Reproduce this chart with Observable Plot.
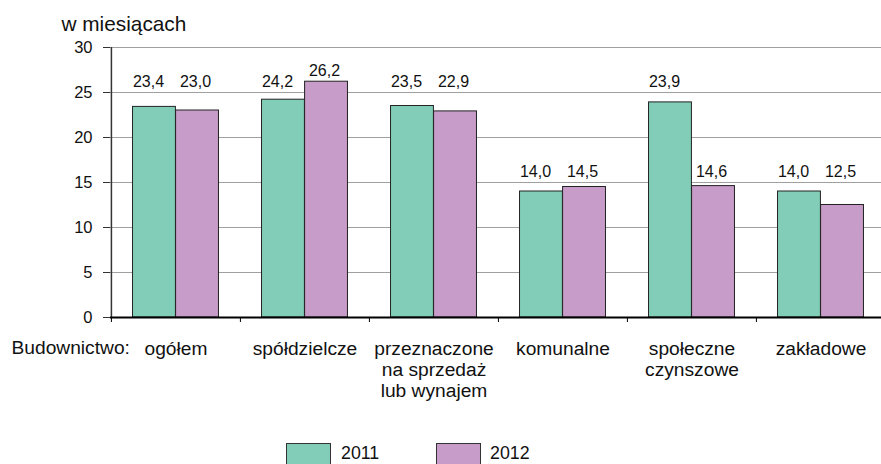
<!DOCTYPE html>
<html>
<head>
<meta charset="utf-8">
<script src="https://cdn.jsdelivr.net/npm/d3@7"></script>
<script src="https://cdn.jsdelivr.net/npm/@observablehq/plot@0.6"></script>
<style>
  body { margin: 0; background: #fff; font-family: "Liberation Sans", Arial, sans-serif; }
  #wrap { position: relative; width: 881px; height: 464px; overflow: hidden; background: #fff; }
  #chart { position: absolute; left: 0; top: 0; }
  .sw { position: absolute; top: 443px; width: 45px; height: 30px; border: 1px solid #333; box-sizing: border-box; }
  .lt { position: absolute; top: 443px; font-size: 17.8px; line-height: 20px; color: #111; }
</style>
</head>
<body>
<div id="wrap">
  <div id="chart"></div>
  <div id="legend"></div>
</div>
<script>
// ---- data ----
const categories = ["ogółem", "spółdzielcze", "przeznaczone na sprzedaż lub wynajem", "komunalne", "społeczne czynszowe", "zakładowe"];
const categoryLabels = ["ogółem", "spółdzielcze", "przeznaczone\nna sprzedaż\nlub wynajem", "komunalne", "społeczne\nczynszowe", "zakładowe"];
const years = ["2011", "2012"];
const values2011 = [23.4, 24.2, 23.5, 14.0, 23.9, 14.0];
const values2012 = [23.0, 26.2, 22.9, 14.5, 14.6, 12.5];
const yTicks = [0, 5, 10, 15, 20, 25, 30];
const yTitle = "w miesiącach";
const xPrefix = "Budownictwo:";

// ---- layout / style ----
const W = 881, H = 420, mL = 110, mR = -4, mT = 47, mB = 103;
const step = (W - mL - mR) / categories.length;
const colors = ["#82CDB7", "#C79CC8"];
const font = '"Liberation Sans", Arial, sans-serif';

const rows2011 = categories.map((c, i) => ({c, year: years[0], v: values2011[i]}));
const rows2012 = categories.map((c, i) => ({c, year: years[1], v: values2012[i]}));
const fmt = v => v.toFixed(1).replace(".", ",");
// labels sit just above the gridline over the bar, unless the bar rises past 25
const labelY = d => Math.min(Math.ceil(d.v / 5) * 5, Math.max(d.v, 25));

const chart = Plot.plot({
  width: W, height: H,
  marginLeft: mL, marginRight: mR, marginTop: mT, marginBottom: mB,
  style: {fontFamily: font, fontSize: "16px", color: "#111", background: "#fff"},
  x: {type: "band", domain: categories, padding: 0, label: null},
  y: {domain: [0, 30], label: null},
  color: {domain: years, range: colors},
  marks: [
    Plot.gridY(yTicks.slice(1), {stroke: "#a0a0a0", strokeOpacity: 1, strokeWidth: 1}),
    Plot.barY(rows2011, {x: "c", y: "v", fill: "year", stroke: "#222", strokeWidth: 1, insetLeft: step / 6, insetRight: step / 2}),
    Plot.barY(rows2012, {x: "c", y: "v", fill: "year", stroke: "#222", strokeWidth: 1, insetLeft: step / 2, insetRight: step / 6}),
    Plot.text(rows2011, {x: "c", y: labelY, text: d => fmt(d.v), dx: -step / 6 - 6, dy: -10.5, lineAnchor: "middle", fontSize: 16, fill: "#111"}),
    Plot.text(rows2012, {x: "c", y: labelY, text: d => fmt(d.v), dx: step / 6 - 2, dy: -10.5, lineAnchor: "middle", fontSize: 16, fill: "#111"}),
    Plot.axisY(yTicks, {tickSize: 7, tickPadding: 11, fontSize: 16.5, tickFormat: d => String(d), stroke: "#333", label: null}),
    Plot.ruleX([categories[0]], {x: d => d, dx: -step / 2, y1: 0, y2: 30, stroke: "#333", strokeWidth: 1.5}),
    Plot.ruleY([0], {stroke: "#000", strokeWidth: 2}),
    Plot.axisX({tickSize: 5, dx: -step / 2, tickFormat: () => "", stroke: "#000", label: null}),
    Plot.axisX({tickSize: 0, tickPadding: 22, fontSize: 19.2, lineHeight: 1.1, tickFormat: d => categoryLabels[categories.indexOf(d)], label: null}),
    Plot.text([yTitle], {frameAnchor: "top-left", dx: -49, dy: -23, textAnchor: "start", lineAnchor: "middle", fontSize: 20.8, fill: "#111"}),
    Plot.text([xPrefix], {frameAnchor: "bottom-left", dx: -99, dy: 30, textAnchor: "start", lineAnchor: "middle", fontSize: 19.2, fill: "#111"})
  ]
});
document.getElementById("chart").appendChild(chart);

// ---- legend ----
const legend = document.getElementById("legend");
const legendPos = [{sw: 286, tx: 341}, {sw: 436, tx: 490}];
years.forEach((y, i) => {
  const s = document.createElement("div");
  s.className = "sw"; s.style.left = legendPos[i].sw + "px"; s.style.background = colors[i];
  legend.appendChild(s);
  const t = document.createElement("div");
  t.className = "lt"; t.style.left = legendPos[i].tx + "px"; t.textContent = y;
  legend.appendChild(t);
});
</script>
</body>
</html>
